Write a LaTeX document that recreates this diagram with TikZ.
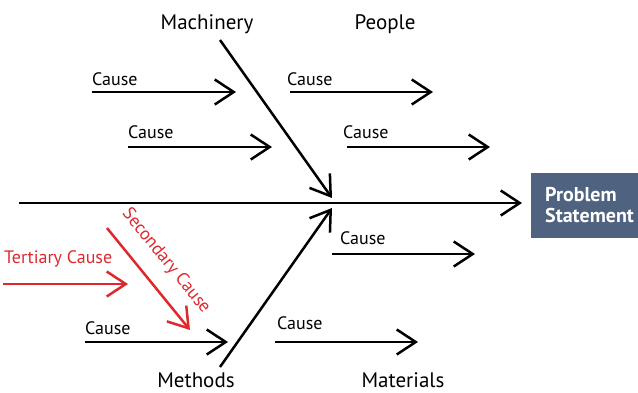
\documentclass[tikz,border=0pt]{standalone}
\usepackage{fontspec}
\setmainfont{PT Sans}
\usetikzlibrary{arrows.meta}
\definecolor{boxblue}{RGB}{79,99,128}
\definecolor{causered}{RGB}{222,40,45}
\tikzset{
  arr/.style={line width=2.5pt, -{Straight Barb[length=19pt,width=25pt,line join=miter]}},
  redarr/.style={arr, draw=causered},
  lbl/.style={font=\fontsize{18}{20}\selectfont, inner sep=0pt, anchor=base west},
  redlbl/.style={lbl, text=causered},
  cat/.style={font=\fontsize{21}{23}\selectfont, inner sep=0pt, anchor=base},
  psbox/.style={fill=boxblue, inner sep=0pt, minimum width=109pt, minimum height=65pt},
  pstext/.style={text=white, font=\bfseries\fontsize{20}{21}\selectfont, inner sep=0pt, anchor=base west}
}
\begin{document}
\begin{tikzpicture}[x=1pt,y=-1pt]
\useasboundingbox (0,0) rectangle (638,392);
% problem box
\node[psbox, anchor=north west] (ps) at (531,173) {};
\node[pstext] (ps1) at (545,201) {Problem};
\node[pstext] (ps2) at (545,222) {Statement};
% spine
\coordinate (sps) at (19,203);
\draw[arr, shorten >=9pt] (sps) -- (ps.west |- sps);
% categories
\node[cat] (mach) at (207,29) {Machinery};
\node[cat] (people) at (385,29) {People};
\node[cat] (meth) at (196,387) {Methods};
\node[cat] (mat) at (403,387) {Materials};
% main bones
\coordinate (m1) at (220,40);   \coordinate (m2) at (332,198);
\coordinate (t1) at (220,367);  \coordinate (t2) at (332,208);
\draw[arr] (m1) -- (m2);
\draw[arr] (t1) -- (t2);
% causes
\coordinate (a1) at (92,92);   \coordinate (a2) at (236,92);
\coordinate (b1) at (128,147); \coordinate (b2) at (272,147);
\coordinate (c1) at (290,92);  \coordinate (c2) at (433,92);
\coordinate (d1) at (347,147); \coordinate (d2) at (490,147);
\coordinate (e1) at (332,254); \coordinate (e2) at (475,254);
\coordinate (f1) at (275,342); \coordinate (f2) at (418,342);
\coordinate (g1) at (85,342);  \coordinate (g2) at (228,342);
\draw[arr] (a1) -- (a2);
\draw[arr] (b1) -- (b2);
\draw[arr] (c1) -- (c2);
\draw[arr] (d1) -- (d2);
\draw[arr] (e1) -- (e2);
\draw[arr] (f1) -- (f2);
\draw[arr] (g1) -- (g2);
\node[lbl] (la) at (92,85) {Cause};
\node[lbl] (lb) at (128,138) {Cause};
\node[lbl] (lc) at (287,85) {Cause};
\node[lbl] (ld) at (343,138) {Cause};
\node[lbl] (le) at (340,244) {Cause};
\node[lbl] (lf) at (277,329) {Cause};
\node[lbl] (lg) at (85,334) {Cause};
% red
\coordinate (r1) at (3,284);   \coordinate (r2) at (128,284);
\coordinate (s1) at (107,228); \coordinate (s2) at (190,330);
\draw[redarr] (r1) -- (r2);
\draw[redarr] (s1) -- (s2);
\node[redlbl] (lr) at (4,263) {Tertiary Cause};
\node[font=\fontsize{18}{20}\selectfont, text=causered, inner sep=0pt, rotate=-51] (ls) at (166,261) {Secondary Cause};
\end{tikzpicture}
\end{document}
